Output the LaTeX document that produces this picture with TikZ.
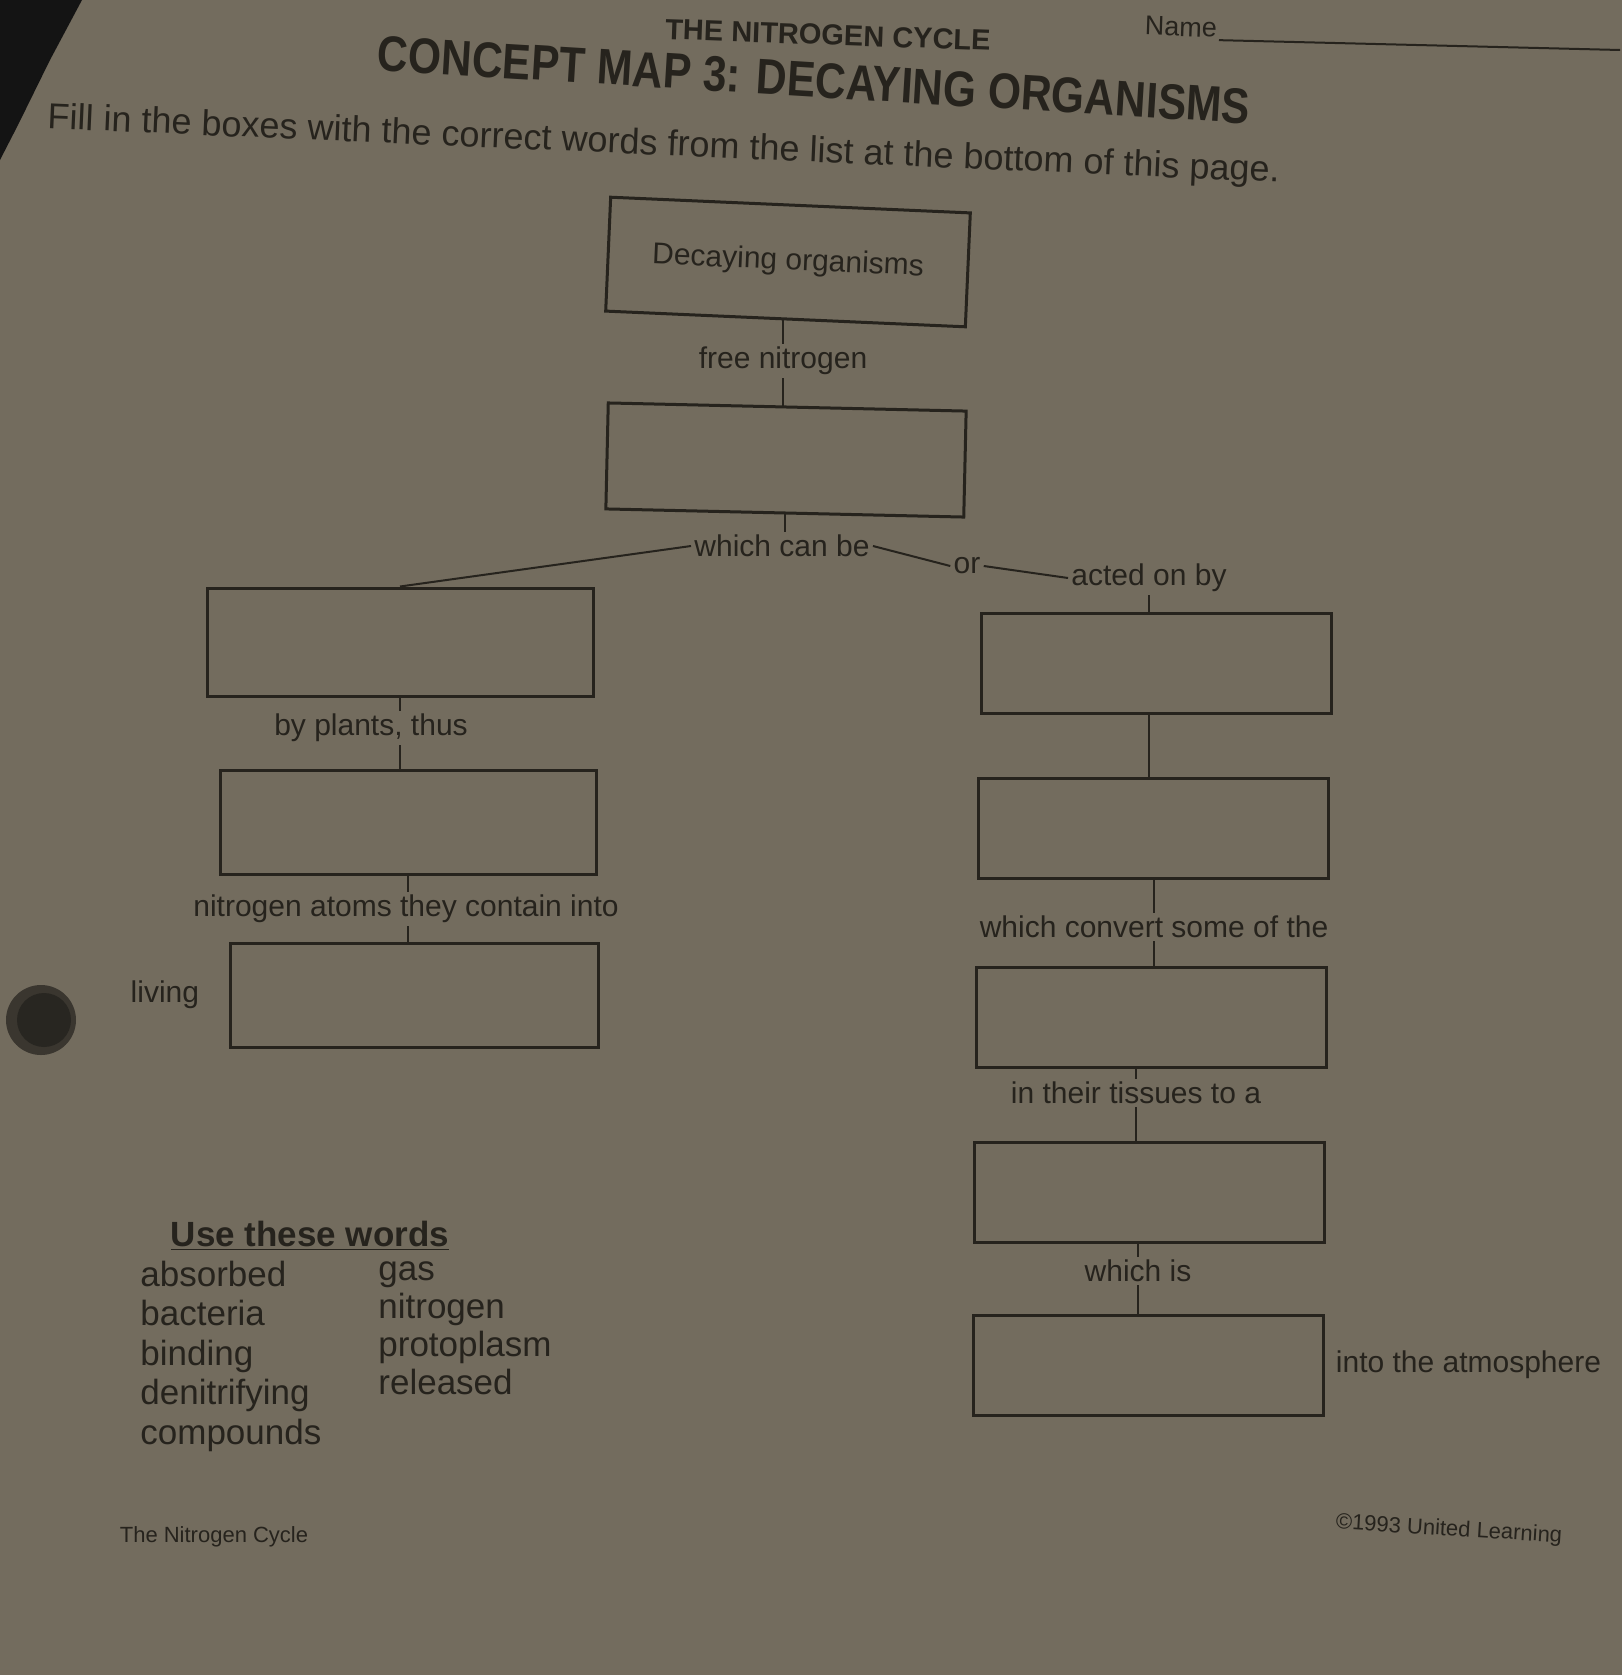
\documentclass[tikz,border=0pt]{standalone}
\usepackage{fontspec}
\setmainfont{Liberation Sans}
\usetikzlibrary{positioning}
\definecolor{paper}{RGB}{115,108,94}
\definecolor{ink}{RGB}{38,35,29}

\begin{document}
\begin{tikzpicture}[x=0.5pt,y=-0.5pt,
  blank/.style={draw=ink,text=ink,line width=1.5pt,minimum width=175pt,minimum height=50pt,inner sep=0pt},
  link/.style={text=ink,font=\fontsize{15}{17}\selectfont,inner sep=1.5pt},
  word/.style={text=ink,anchor=base west,font=\fontsize{17.5}{20}\selectfont,inner sep=0pt},
  tie/.style={draw=ink,line width=1pt}]
\fill[paper] (0,0) rectangle (1622,1675);
\useasboundingbox (0,0) rectangle (1622,1675);

% heading
\node[text=ink,font=\bfseries\fontsize{14.5}{17}\selectfont,inner sep=0pt,rotate=-2] (cycle) at (828,35) {THE NITROGEN CYCLE};
\node[text=ink,font=\fontsize{13.5}{16}\selectfont,inner sep=1pt,rotate=-2] (name) at (1181,27) {Name};
\coordinate (nameend) at (1620,50);
\draw[ink,line width=1pt] (name.south east) -- (nameend);
\node[text=ink,inner sep=0pt,rotate=-3.5] (title) at (814,80)
  {\scalebox{0.85}[1]{\bfseries\fontsize{25}{30}\selectfont CONCEPT MAP 3: DECAYING ORGANISMS}};
\node[text=ink,font=\fontsize{18}{20}\selectfont,inner sep=0pt,rotate=-2.5] (fill) at (664,146)
  {Fill in the boxes with the correct words from the list at the bottom of this page.};
\fill[black!92] (0,0) -- (82,0) -- (50,60) -- (18,125) -- (0,160) -- cycle;
\fill[black!50!paper] (41,1020) circle (35);
\fill[black!65!paper] (44,1020) circle (27);

% centre
\node[blank,minimum width=180pt,minimum height=57pt,rotate=-2.5] (top) at (788,262)
  {\fontsize{15}{17}\selectfont Decaying organisms};
\node[link] (free) at (783,361) {free nitrogen};
\node[blank,minimum width=179pt,minimum height=53pt,rotate=-1.3] (b1) at (786,460) {};
\node[link] (canbe) at (782,546) {which can be};
\node[link] (or) at (967,566) {or};
\node[link] (acted) at (1149,578) {acted on by};

% left branch
\node[blank,minimum width=193pt,minimum height=54pt] (l1) at (400,642) {};
\node[link] (plants) at (371,728) {by plants, thus};
\node[blank,minimum width=188pt,minimum height=52pt] (l2) at (408,822) {};
\node[link] (atoms) at (406,909) {nitrogen atoms they contain into};
\node[blank,minimum width=184pt,minimum height=52pt] (l3) at (414,995) {};
\node[link,left=13pt of l3] (living) {living};

% right branch
\node[blank] (r1) at (1156,663) {};
\node[blank] (r2) at (1153,828) {};
\node[link] (convert) at (1154,927) {which convert some of the};
\node[blank] (r3) at (1151,1017) {};
\node[link] (tissues) at (1136,1093) {in their tissues to a};
\node[blank] (r4) at (1149,1192) {};
\node[link] (whichis) at (1138,1271) {which is};
\node[blank] (r5) at (1148,1365) {};
\node[link,right=4pt of r5] (atmo) {into the atmosphere};

\draw[tie] (free.north |- top.south) -- (free.north);
\draw[tie] (free.south) -- (free.south |- b1.north);
\draw[tie] (b1.south) -- (b1.south |- canbe.north);
\draw[tie] (canbe.west) -- (l1.north);
\draw[tie] (canbe.east) -- (or.west);
\draw[tie] (or.east) -- (acted.west);
\draw[tie] (acted.south) -- (acted.south |- r1.north);
\draw[tie] (l1.south) -- (l1.south |- plants.north);
\draw[tie] (l1.south |- plants.south) -- (l1.south |- l2.north);
\draw[tie] (l2.south) -- (l2.south |- atoms.north);
\draw[tie] (l2.south |- atoms.south) -- (l2.south |- l3.north);
\draw[tie] (acted.south |- r1.south) -- (acted.south |- r2.north);
\draw[tie] (convert.north |- r2.south) -- (convert.north);
\draw[tie] (convert.south) -- (convert.south |- r3.north);
\draw[tie] (tissues.north |- r3.south) -- (tissues.north);
\draw[tie] (tissues.south) -- (tissues.south |- r4.north);
\draw[tie] (whichis.north |- r4.south) -- (whichis.north);
\draw[tie] (whichis.south) -- (whichis.south |- r5.north);

% word list
\node[text=ink,font=\bfseries\fontsize{17.5}{20}\selectfont] (use) at (310,1236) {\underline{Use these words}};
\foreach \w [count=\i] in {absorbed,bacteria,binding,denitrifying,compounds}
  {\node[word] (wa\i) at ({140},{1286+39.5*(\i-1)}) {\w};}
\foreach \w [count=\i] in {gas,nitrogen,protoplasm,released}
  {\node[word] (wb\i) at ({378},{1280+38*(\i-1)}) {\w};}

% footer
\node[text=ink,font=\fontsize{11}{13}\selectfont] (foot) at (214,1537) {The Nitrogen Cycle};
\node[text=ink,font=\fontsize{11}{13}\selectfont,rotate=-3.5] (copy) at (1449,1530) {©1993 United Learning};
\end{tikzpicture}
\end{document}
